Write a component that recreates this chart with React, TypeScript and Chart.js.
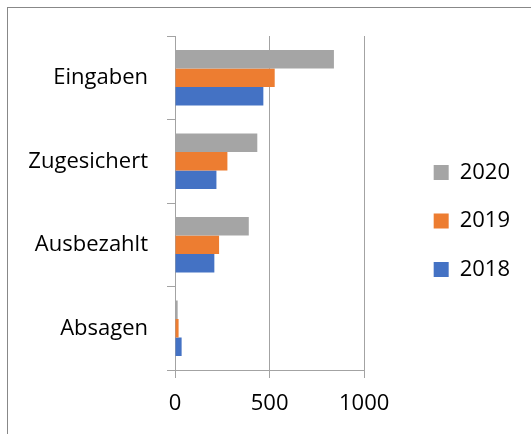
import React, { useEffect, useRef } from "react";
import { Chart, registerables, layouts } from "chart.js";

Chart.register(...registerables);

const categories = ["Eingaben", "Zugesichert", "Ausbezahlt", "Absagen"];
const seriesNames = ["2020", "2019", "2018"];
const values2020 = [840, 435, 390, 14];
const values2019 = [527, 277, 233, 19];
const values2018 = [467, 219, 208, 35];
const xTicks = [0, 500, 1000];
const colors = ["#A5A5A5", "#ED7D31", "#4472C4"];

const FONT = "'Open Sans', 'DejaVu Sans', sans-serif";
const GRID = "#a3a3a3";

const spacerPlugin = {
  id: "spacers",
  beforeInit(chart: any) {
    const mk = (position: string, size: number) => ({
      position,
      weight: 500,
      fullSize: false,
      options: { display: false },
      top: 0, left: 0, right: 0, bottom: 0, width: 0, height: 0,
      isHorizontal() {
        return position === "top" || position === "bottom";
      },
      update(maxWidth: number, maxHeight: number) {
        if (position === "top" || position === "bottom") {
          this.width = maxWidth;
          this.height = size;
        } else {
          this.width = size;
          this.height = maxHeight;
        }
      },
      draw() {},
    });
    layouts.addBox(chart, mk("right", 43));
    layouts.addBox(chart, mk("top", 28));
  },
};

export default function App() {
  const ref = useRef<HTMLCanvasElement | null>(null);
  useEffect(() => {
    document.body.style.margin = "0";
    if (!ref.current) return;
    const data = [values2020, values2019, values2018];
    const chart = new Chart(ref.current, {
      type: "bar",
      data: {
        labels: categories,
        datasets: seriesNames.map((name, i) => ({
          label: name,
          data: data[i],
          backgroundColor: colors[i],
          borderWidth: 0,
          categoryPercentage: 0.666,
          barPercentage: 1,
        })),
      },
      plugins: [spacerPlugin],
      options: {
        indexAxis: "y",
        responsive: false,
        animation: false,
        layout: { padding: { right: 11, top: 0, bottom: 0, left: 0 } },
        plugins: {
          tooltip: { enabled: false },
          legend: {
            position: "right",
            align: "center",
            labels: {
              boxWidth: 15,
              boxHeight: 15,
              padding: 26.5,
              color: "#000",
              font: { family: FONT, size: 22 },
            },
          },
        },
        scales: {
          x: {
            min: 0,
            max: 1000,
            afterBuildTicks(scale: any) {
              scale.ticks = xTicks.map((v) => ({ value: v }));
            },
            afterFit(scale: any) {
              scale.height = 64;
              scale.paddingLeft = 0;
              scale.paddingRight = 0;
            },
            grid: {
              color: GRID,
              lineWidth: 1,
              tickLength: 8,
              drawTicks: true,
            },
            border: { display: true, color: GRID, width: 1 },
            ticks: {
              color: "#000",
              padding: 13,
              font: { family: FONT, size: 22 },
              maxRotation: 0,
              callback: (v: any) => String(v),
            },
          },
          y: {
            afterFit(scale: any) {
              scale.width = 167;
              scale.paddingTop = 0;
              scale.paddingBottom = 0;
            },
            grid: {
              drawOnChartArea: false,
              drawTicks: true,
              tickLength: 8,
              offset: true,
              color: GRID,
            },
            border: { display: true, color: GRID, width: 1 },
            ticks: {
              color: "#000",
              padding: 19,
              font: { family: FONT, size: 22 },
            },
          },
        },
      },
    } as any);
    return () => chart.destroy();
  }, []);
  return (
    <div
      style={{
        position: "absolute",
        left: 7,
        top: 7,
        width: 524,
        height: 427,
        boxSizing: "border-box",
        borderLeft: "1px solid #888888",
        borderTop: "1px solid #888888",
      }}
    >
      <canvas ref={ref} width={523} height={426} style={{ display: "block", width: 523, height: 426 }} />
    </div>
  );
}
